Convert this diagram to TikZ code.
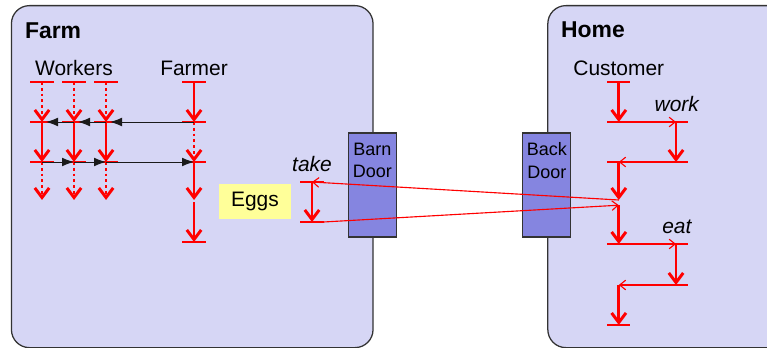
\documentclass[tikz,border=0pt]{standalone}
\usepackage{fontspec}
\setmainfont{Liberation Sans}
\usetikzlibrary{arrows.meta}
\definecolor{zonefill}{HTML}{D6D6F5}
\definecolor{zoneline}{HTML}{333333}
\definecolor{doorfill}{HTML}{8585E0}
\definecolor{eggfill}{HTML}{FFFF99}
\definecolor{callblack}{HTML}{1A1A1A}

\begin{document}
\begin{tikzpicture}[
      font=\fontsize{14.9}{17.9}\selectfont,
      zone/.style={draw=zoneline, line width=0.9pt, fill=zonefill, rounded corners=0.45cm, anchor=north west, inner sep=0pt},
      door/.style={draw=zoneline, line width=0.9pt, fill=doorfill, minimum width=1.2cm, minimum height=2.6cm, inner sep=0pt},
      doortxt/.style={anchor=north, align=center, inner sep=0pt, font=\fontsize{12.8}{16.3}\selectfont},
      zonetitle/.style={anchor=base west, inner sep=0pt, font=\fontsize{16.3}{19}\selectfont\bfseries},
      who/.style={anchor=base, inner sep=0pt},
      act/.style={who, font=\fontsize{14.9}{17.9}\selectfont\itshape},
      life/.style={red, line width=2.1pt, -{Straight Barb[length=0.24cm, width=0.36cm]}},
      idle/.style={life, dotted},
      lifetick/.style={red, line width=2.1pt},
      call/.style={callblack, line width=0.7pt, -{Latex[length=0.3cm, width=0.22cm]}},
      callback/.style={call, shorten >=0.1cm},
      msg/.style={red, line width=0.8pt, -{Straight Barb[length=0.15cm, width=0.24cm]}}]
    \useasboundingbox (0,0) rectangle (19.175,-8.7);
    \clip (0,0) rectangle (19.175,-8.7);

    % the two places and their doors
    \node[zone, minimum width=9.04cm, minimum height=8.55cm] (farm) at (0.27,-0.125) {};
    \node[zone, minimum width=7cm, minimum height=8.55cm] (home) at (13.68,-0.125) {};
    \node[zonetitle] (farmname) at (0.62,-0.97) {Farm};
    \node[zonetitle] (homename) at (14.02,-0.93) {Home};
    \node[door] (barn) at (9.31,-4.625) {};
    \node[door] (back) at (13.67,-4.625) {};
    \node[doortxt] (barntxt) at ([yshift=-0.25cm]barn.north) {Barn\\Door};
    \node[doortxt] (backtxt) at ([yshift=-0.25cm]back.north) {Back\\Door};
    \node[fill=eggfill, minimum width=1.8cm, minimum height=0.875cm] (eggs) at (6.375,-5.04) {Eggs};

    % who is who
    \node[who] (workers) at (1.85,-1.9) {Workers};
    \node[who] (farmer) at (4.85,-1.9) {Farmer};
    \node[who] (customer) at (15.47,-1.9) {Customer};
    \node[act] (take) at (7.8,-4.29) {take};
    \node[act] (work) at (16.92,-2.79) {work};
    \node[act] (eat) at (16.92,-5.85) {eat};

    % points on the lifelines
    \foreach \i/\x in {1/1.05, 2/1.85, 3/2.65} {
      \coordinate (w\i a) at (\x,-2.05);
      \coordinate (w\i b) at (\x,-3.05);
      \coordinate (w\i c) at (\x,-4.05);
      \coordinate (w\i d) at (\x,-5.0);
    }
    \coordinate (f1) at (4.85,-2.05);
    \coordinate (f2) at (4.85,-3.05);
    \coordinate (f3) at (4.85,-4.05);
    \coordinate (f4) at (4.85,-5.0);
    \coordinate (f5) at (4.85,-5.06);
    \coordinate (f6) at (4.85,-6.05);
    \coordinate (t1) at (7.8,-4.55);
    \coordinate (t2) at (7.8,-5.55);
    \coordinate (c1) at (15.47,-2.05);
    \coordinate (c2) at (15.47,-3.05);
    \coordinate (c3) at (15.47,-4.05);
    \coordinate (c4) at (15.47,-5.0);
    \coordinate (c5) at (15.47,-5.13);
    \coordinate (c6) at (15.47,-6.1);
    \coordinate (c7) at (15.47,-7.125);
    \coordinate (c8) at (15.47,-8.125);
    \coordinate (k1) at (16.9,-3.05);
    \coordinate (k2) at (16.9,-4.05);
    \coordinate (e1) at (16.9,-6.1);
    \coordinate (e2) at (16.9,-7.125);

    % lifelines
    \foreach \i in {1,2,3} {
      \draw[idle] (w\i a) -- (w\i b);
      \draw[life] (w\i b) -- (w\i c);
      \draw[idle] (w\i c) -- (w\i d);
    }
    \draw[life] (f1) -- (f2);
    \draw[idle] (f2) -- (f3);
    \draw[life] (f3) -- (f4);
    \draw[life] (f5) -- (f6);
    \draw[life] (t1) -- (t2);
    \draw[life] (c1) -- (c2);
    \draw[life] (c3) -- (c4);
    \draw[life] (c5) -- (c6);
    \draw[life] (c7) -- (c8);
    \draw[life] (k1) -- (k2);
    \draw[life] (e1) -- (e2);
    \foreach \p in {w1a,w1b,w1c,w2a,w2b,w2c,w3a,w3b,w3c,f1,f2,f3,f6,t1,t2,c1,c2,c3,c6,c8,k1,k2,e1,e2}
      \draw[lifetick] ([xshift=-0.29cm]\p) -- ([xshift=0.29cm]\p);

    % messages
    \draw[msg] (c2) -- (k1);
    \draw[msg] (k2) -- (c3);
    \draw[msg] (c6) -- (e1);
    \draw[msg] (e2) -- (c7);
    \draw[msg] (c4) -- (t1);
    \draw[msg] ([xshift=0.29cm]t2) -- (c5);

    % farmer hands out and collects
    \draw[callback] (f2) -- (w3b);
    \draw[callback] (w3b) -- (w2b);
    \draw[callback] (w2b) -- (w1b);
    \draw[call] (w1c) -- (w2c);
    \draw[call] (w2c) -- (w3c);
    \draw[call] (w3c) -- (f3);
  \end{tikzpicture}
\end{document}
